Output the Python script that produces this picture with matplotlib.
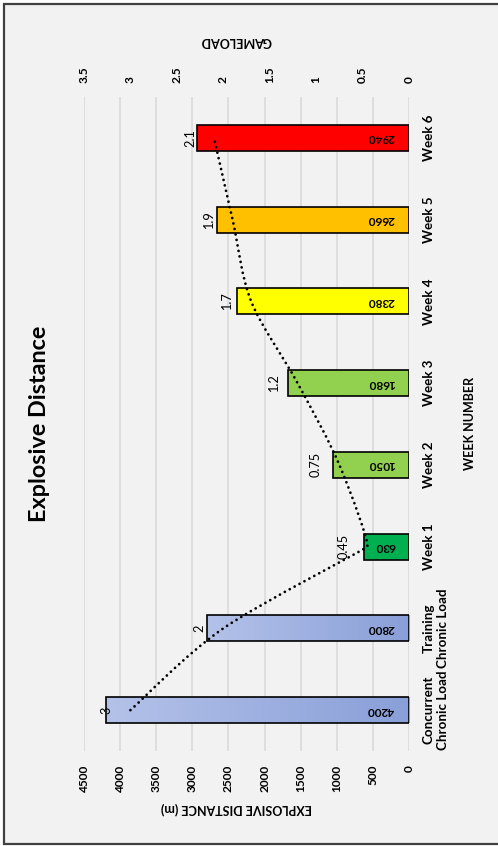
import numpy as np
import matplotlib
matplotlib.use("Agg")
import matplotlib.pyplot as plt
from matplotlib.path import Path
from matplotlib.patches import PathPatch, Rectangle
from matplotlib.colors import LinearSegmentedColormap

# ---- data ----
categories = ["Concurrent\nChronic Load", "Training\nChronic Load", "Week 1", "Week 2",
              "Week 3", "Week 4", "Week 5", "Week 6"]
distance = [4200, 2800, 630, 1050, 1680, 2380, 2660, 2940]
gameload = [3, 2, 0.45, 0.75, 1.2, 1.7, 1.9, 2.1]
gameload_labels = ["3", "2", "0.45", "0.75", "1.2", "1.7", "1.9", "2.1"]
bar_colors = [None, None, "#00b050", "#92d050", "#92d050", "#ffff00", "#ffc000", "#ff0000"]
distance_ticks = [0, 500, 1000, 1500, 2000, 2500, 3000, 3500, 4000, 4500]
gameload_ticks = [0, 0.5, 1, 1.5, 2, 2.5, 3, 3.5]
gameload_tick_labels = ["0", "0.5", "1", "1.5", "2", "2.5", "3", "3.5"]

plt.rcParams["font.family"] = ["Lato", "DejaVu Sans"]

W, H = 498, 846
fig = plt.figure(figsize=(W / 100, H / 100), dpi=100)
fig.patch.set_facecolor("white")

# panel background with frame (right edge runs off the canvas)
fig.add_artist(Rectangle((4 / W, 2 / H), (W + 10) / W, 840 / H,
                         transform=fig.transFigure, facecolor="#f2f2f2",
                         edgecolor="#404040", lw=1.6, zorder=0))

ax = fig.add_axes([84 / W, (H - 751) / H, 325 / W, 654 / H])
ax.set_facecolor("none")
for s in ax.spines.values():
    s.set_visible(False)

ypos = np.arange(len(categories))
bar_h = 0.32

# bars
blue_grad = LinearSegmentedColormap.from_list("bg", ["#b4c2e9", "#899fd8"])
for i, (d, c) in enumerate(zip(distance, bar_colors)):
    if c is None:
        rect = ax.barh(i, d, height=bar_h, color="none", edgecolor="black",
                       lw=1.2, zorder=3)[0]
        grad = np.linspace(0, 1, 256).reshape(1, -1)
        im = ax.imshow(grad, cmap=blue_grad, aspect="auto",
                       extent=(d, 0, i - bar_h / 2, i + bar_h / 2), zorder=2)
        im.set_clip_path(rect)
    else:
        ax.barh(i, d, height=bar_h, color=c, edgecolor="black", lw=1.2, zorder=3)
    ax.annotate(str(d), xy=(0, i), xytext=(-14, 0), textcoords="offset pixels",
                rotation=180, ha="right", va="center", fontsize=8.5,
                fontweight="bold", zorder=5)
ax.set_xlim(4500, 0)
ax.set_ylim(-0.5, len(categories) - 0.5)

# grid + bottom axis
ax.set_xticks(distance_ticks)
ax.set_xticklabels([str(t) for t in distance_ticks])
ax.grid(axis="x", color="#d9d9d9", lw=1.1, zorder=0)
ax.set_axisbelow(True)
ax.tick_params(axis="x", length=0, pad=10, labelsize=8.6)
for lab in ax.get_xticklabels():
    lab.set_rotation(90)
    lab.set_fontweight("bold")
    lab.set_va("top")
    lab.set_ha("center")

# category axis on the right
ax.set_yticks(ypos)
ax.set_yticklabels(categories)
ax.yaxis.tick_right()
ax.tick_params(axis="y", length=0, pad=10, labelsize=9.6)
for lab in ax.get_yticklabels():
    lab.set_rotation(90)
    lab.set_fontweight("bold")
    lab.set_ha("left")
    lab.set_va("center")
    lab.set_multialignment("center")

# secondary (gameload) axis on top
ax2 = ax.twiny()
ax2.set_xlim(3.5, 0)
ax2.set_ylim(-0.5, len(categories) - 0.5)
for s in ax2.spines.values():
    s.set_visible(False)
ax2.set_xticks(gameload_ticks)
ax2.set_xticklabels(gameload_tick_labels)
ax2.tick_params(axis="x", length=0, pad=10, labelsize=8.6)
for lab in ax2.get_xticklabels():
    lab.set_rotation(90)
    lab.set_fontweight("bold")
    lab.set_va("bottom")
    lab.set_ha("center")

# smoothed gameload line: cubic Bezier segments built in display space,
# with tangents shortened at sharp turns so the curve does not overshoot
P = ax2.transData.transform(np.column_stack([gameload, ypos]).astype(float))
n = len(P)
tang = np.zeros_like(P)
for k in range(n):
    a = P[max(k - 1, 0)]
    b = P[min(k + 1, n - 1)]
    t = b - a
    if 0 < k < n - 1:
        u1 = P[k] - P[k - 1]
        u2 = P[k + 1] - P[k]
        cosang = np.dot(u1, u2) / (np.linalg.norm(u1) * np.linalg.norm(u2))
        t = t * ((1 + cosang) / 2) ** 4
    tang[k] = t
verts = [P[0]]
codes = [Path.MOVETO]
for k in range(n - 1):
    verts += [P[k] + tang[k] / 6.0, P[k + 1] - tang[k + 1] / 6.0, P[k + 1]]
    codes += [Path.CURVE4] * 3
verts = ax2.transData.inverted().transform(np.array(verts))
line = PathPatch(Path(verts, codes), fill=False, edgecolor="black", lw=2.0,
                 linestyle=(0, (0.01, 2.0)), capstyle="round", zorder=6)
ax2.add_patch(line)

for g, lbl, i in zip(gameload, gameload_labels, ypos):
    ax2.annotate(lbl, xy=(g, i), xytext=(-24, 0), textcoords="offset pixels",
                 rotation=90, ha="center", va="center", fontsize=9.2, zorder=7)

# titles
fig.text(40 / W, 1 - 424 / H, "Explosive Distance", rotation=90, ha="center",
         va="center", fontsize=16.8, fontweight="bold")
fig.text(236 / W, 1 - 808 / H, "EXPLOSIVE DISTANCE (m)", rotation=180,
         ha="center", va="center", fontsize=9, fontweight="bold")
fig.text(236 / W, 1 - 41 / H, "GAMELOAD", rotation=180, ha="center",
         va="center", fontsize=9, fontweight="bold")
fig.text(470 / W, 1 - 423 / H, "WEEK NUMBER", rotation=90, ha="center",
         va="center", fontsize=9, fontweight="bold")

fig.savefig("out.png", dpi=100, facecolor=fig.get_facecolor())
